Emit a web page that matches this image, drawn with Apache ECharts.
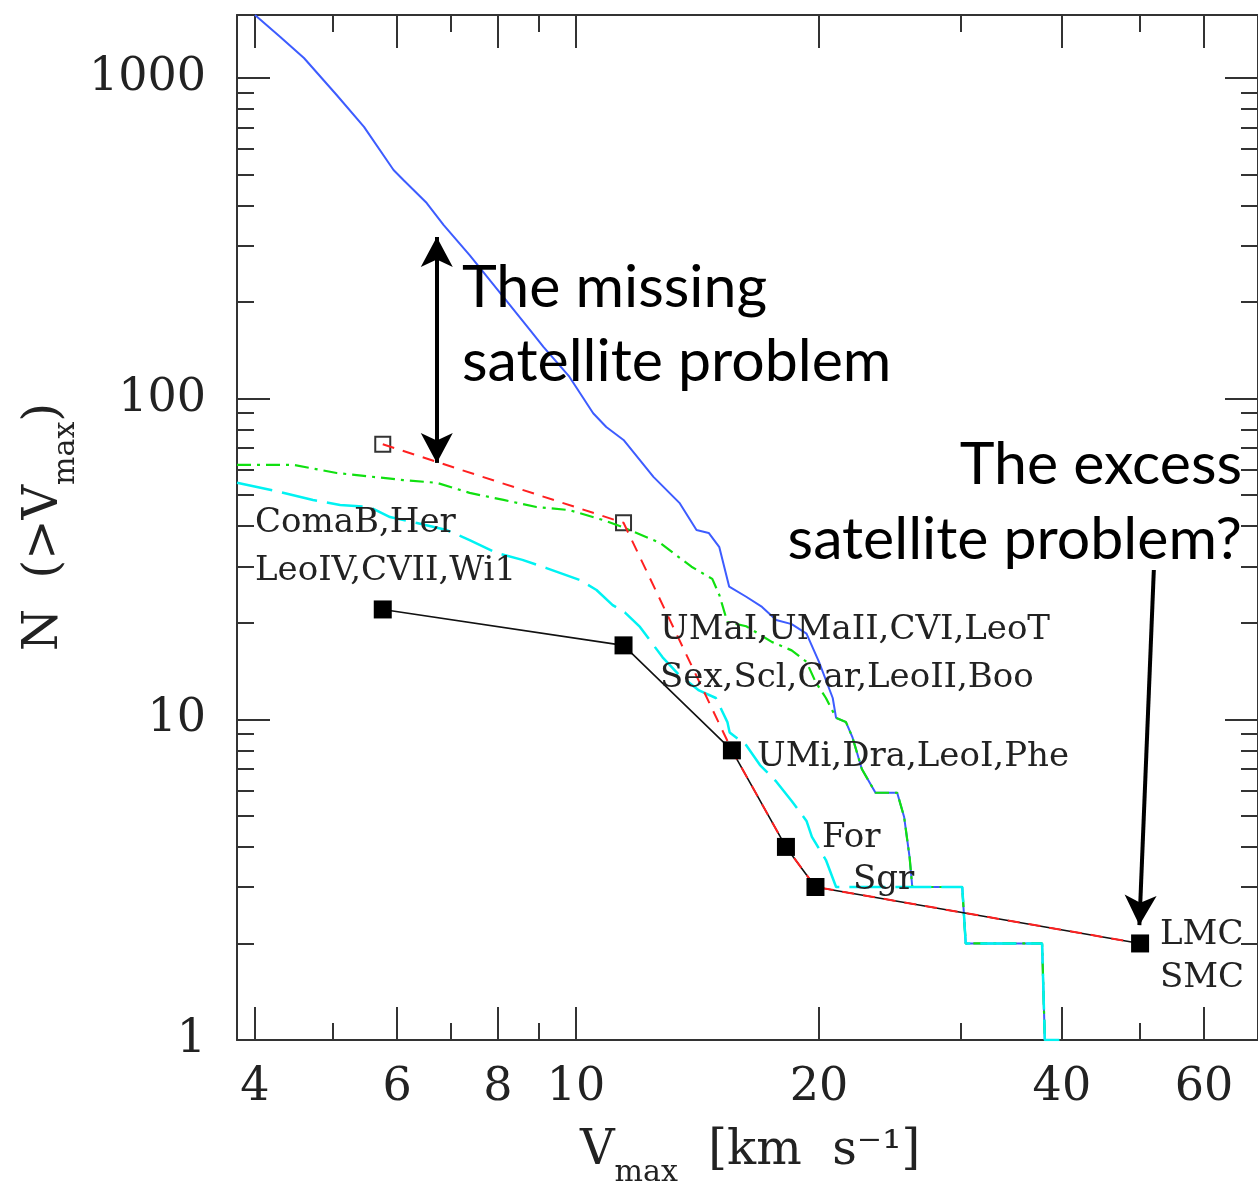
<!DOCTYPE html>
<html>
<head>
<meta charset="utf-8">
<title>N(&gt;Vmax)</title>
<script src="https://cdn.jsdelivr.net/npm/echarts@6.0.0/dist/echarts.min.js"></script>
<style>
  html, body { margin: 0; padding: 0; background: #fff; }
  #chart { width: 1258px; height: 1199px; }
</style>
</head>
<body>
<div id="chart"></div>
<script>
// axis ranges (log-log)
const xMin = 3.8, xMax = 70
const yMin = 1, yMax = 1570

// tick values
const xMajor = [4, 6, 8, 10, 20, 40, 60]
const xMinor = [5, 7, 9, 30, 50]
const yMajor = [1, 10, 100, 1000]
const yMinor = [2, 3, 4, 5, 6, 7, 8, 9, 20, 30, 40, 50, 60, 70, 80, 90, 200, 300, 400, 500, 600, 700, 800, 900]

// simulation, all subhalos (blue solid)
const blueV = [4.0, 4.3, 4.6, 5.05, 5.46, 5.94, 6.11, 6.53, 6.85, 7.38, 8.13, 8.76, 9.11, 9.81, 10.5, 10.9, 11.45, 12.47, 13.43, 14.1, 14.6, 15.05, 15.48, 16.25, 17.0, 17.7, 18.5, 19.3, 20.0, 20.8, 21.0, 21.6, 22.0, 22.6, 23.5, 25.0, 25.5, 25.9, 26.1, 30.1, 30.4, 37.8, 38.1, 39.7]
const blueN = [1570, 1341, 1153, 884, 703, 516, 480, 407, 348, 280, 207, 164, 145, 117, 90, 81.5, 74.3, 57, 47.3, 38.9, 38.1, 34.4, 25.9, 24.1, 22.4, 20.4, 19.8, 18.5, 15.1, 11.65, 10.1, 9.8, 8.8, 7.0, 5.9, 5.9, 4.96, 3.72, 3.0, 3.0, 2.0, 2.0, 1.0, 1.0]

// green dash-dot
const greenV = [3.8, 4.47, 5.05, 6.11, 6.72, 7.38, 8.13, 8.93, 9.81, 10.8, 11.4, 12.7, 13.9, 14.75, 15.05, 15.4, 16.25, 17.5, 18.5, 19.3, 19.8, 20.4, 21.0, 21.6, 22.0, 22.6, 23.5, 25.0, 25.5, 25.9, 26.1, 30.1, 30.4, 37.8, 38.1, 39.7]
const greenN = [62.1, 62.1, 58.6, 55.7, 54.6, 50.8, 48.3, 45.9, 44.9, 41.8, 39.8, 35.5, 29.9, 27.4, 24.4, 20.1, 19.5, 17.4, 16.4, 15.1, 13.1, 11.65, 10.1, 9.8, 8.8, 7.0, 5.9, 5.9, 4.96, 3.72, 3.0, 3.0, 2.0, 2.0, 1.0, 1.0]

// cyan long dash
const cyanV = [3.8, 4.3, 4.72, 5.1, 5.55, 5.88, 6.35, 6.91, 7.38, 7.97, 8.58, 9.19, 10.1, 10.6, 11.1, 11.5, 12.0, 12.8, 13.4, 14.2, 14.9, 15.4, 15.5, 16.25, 16.9, 17.7, 18.5, 19.3, 19.6, 20.4, 21.0, 30.1, 30.4, 37.8, 38.1, 39.7]
const cyanN = [54.6, 51.1, 48.3, 46.6, 45.9, 42.7, 40.9, 38.9, 36.2, 33.0, 31.4, 29.6, 27.2, 25.3, 22.7, 21.5, 19.4, 15.6, 13.8, 12.3, 11.65, 9.8, 9.1, 8.3, 7.2, 6.4, 5.56, 4.82, 4.3, 3.64, 3.0, 3.0, 2.0, 2.0, 1.0, 1.0]

// observed dwarfs (black squares)
const obsV = [5.76, 11.45, 15.6, 18.2, 19.8, 50.0]
const obsN = [22, 17, 8, 4, 3, 2]

// red dashed (first two points are open squares)
const redV = [5.76, 11.45, 15.6, 18.2, 19.8, 50.0]
const redN = [72, 41, 8, 4, 3, 2]
const openCount = 2

// arrows
const gapArrow = [[6.72, 319], [6.72, 63]]
const excessArrow = [[52.0, 29.2], [49.9, 2.28]]

const zip = (a, b) => a.map((v, i) => [v, b[i]])
const lg = v => Math.log10(v)

const serif = 'DejaVu Serif'
const axisColor = '#333'

function tickAxis(dim, pos, vals, len, withLabel, withLine) {
	const isX = dim === 'x'
	return {
		type: 'value',
		position: pos,
		min: lg(isX ? xMin : yMin),
		max: lg(isX ? xMax : yMax),
		axisLine: { show: withLine, onZero: false, lineStyle: { color: axisColor, width: 2 } },
		axisTick: {
			show: true, inside: true, length: len, customValues: vals.map(lg),
			lineStyle: { color: axisColor, width: 2 }
		},
		axisLabel: withLabel ? {
			show: true,
			customValues: vals.map(lg),
			formatter: v => String(Math.round(Math.pow(10, v))),
			fontFamily: serif,
			fontSize: 46,
			color: '#222',
			margin: isX ? 25 : 31
		} : { show: false },
		splitLine: { show: false }
	}
}

const chart = echarts.init(document.getElementById('chart'))

const option = {
	animation: false,
	backgroundColor: '#fff',
	grid: { left: 237, top: 15, width: 1021, height: 1025, containLabel: false },
	xAxis: [
		{ type: 'log', logBase: 10, min: xMin, max: xMax, show: false, position: 'bottom', axisLine: { onZero: false } },
		tickAxis('x', 'bottom', xMajor, 33, true, true),
		tickAxis('x', 'bottom', xMinor, 17, false, false),
		tickAxis('x', 'top', xMajor, 33, false, true),
		tickAxis('x', 'top', xMinor, 17, false, false)
	],
	yAxis: [
		{ type: 'log', logBase: 10, min: yMin, max: yMax, show: false, position: 'left', axisLine: { onZero: false } },
		tickAxis('y', 'left', yMajor, 33, true, true),
		tickAxis('y', 'left', yMinor, 17, false, false),
		tickAxis('y', 'right', yMajor, 33, false, true),
		tickAxis('y', 'right', yMinor, 17, false, false)
	],
	series: [
		{
			name: 'all', type: 'line', data: zip(blueV, blueN),
			showSymbol: false, symbol: 'none',
			lineStyle: { color: '#3d5cff', width: 2 }
		},
		{
			name: 'green', type: 'line', data: zip(greenV, greenN),
			showSymbol: false, symbol: 'none',
			lineStyle: { color: '#10e010', width: 2.2, type: [14, 6, 3, 6] }
		},
		{
			name: 'cyan', type: 'line', data: zip(cyanV, cyanN),
			showSymbol: false, symbol: 'none',
			lineStyle: { color: '#00f2f2', width: 2.5, type: [36, 10] }
		},
		{
			name: 'observed', type: 'line', data: zip(obsV, obsN),
			symbol: 'rect', symbolSize: 18,
			itemStyle: { color: '#000' },
			lineStyle: { color: '#111', width: 1.6 },
			markLine: {
				silent: true,
				symbolSize: [24, 30],
				label: { show: false },
				lineStyle: { color: '#000', width: 4, type: 'solid' },
				data: [
					[{ coord: gapArrow[0], symbol: 'arrow' }, { coord: gapArrow[1], symbol: 'arrow' }],
					[{ coord: excessArrow[0], symbol: 'none' }, { coord: excessArrow[1], symbol: 'arrow' }]
				]
			}
		},
		{
			name: 'red', type: 'line', data: zip(redV, redN),
			showSymbol: false, symbol: 'none',
			lineStyle: { color: '#ff2020', width: 2, type: [12, 9] }
		},
		{
			name: 'open', type: 'scatter', data: zip(redV, redN).slice(0, openCount),
			symbol: 'rect', symbolSize: 15,
			itemStyle: { color: '#fff', borderColor: '#000', borderWidth: 2 }
		}
	],
	graphic: [
		// axis titles
		{
			type: 'text', x: 750, y: 1152, z: 100,
			style: {
				text: '{m|V}{s|max}{m|  [km  s⁻¹]}',
				align: 'center', verticalAlign: 'middle',
				rich: {
					m: { fontFamily: serif, fontSize: 48, lineHeight: 72, fill: '#222' },
					s: { fontFamily: serif, fontSize: 30, lineHeight: 30, verticalAlign: 'bottom', fill: '#222' }
				}
			}
		},
		{
			type: 'text', x: 45, y: 527, rotation: Math.PI / 2, z: 100,
			style: {
				text: '{m|N  (>V}{s|max}{m|)}',
				align: 'center', verticalAlign: 'middle',
				rich: {
					m: { fontFamily: serif, fontSize: 48, lineHeight: 72, fill: '#222' },
					s: { fontFamily: serif, fontSize: 30, lineHeight: 30, verticalAlign: 'bottom', fill: '#222' }
				}
			}
		},
		// big annotations
		{ type: 'text', x: 462, y: 288, z: 100, style: { text: 'The missing', font: '59px Lato', fill: '#000', align: 'left', verticalAlign: 'middle' } },
		{ type: 'text', x: 462, y: 362, z: 100, style: { text: 'satellite problem', font: '59px Lato', fill: '#000', align: 'left', verticalAlign: 'middle' } },
		{ type: 'text', x: 1242, y: 465, z: 100, style: { text: 'The excess', font: '59px Lato', fill: '#000', align: 'right', verticalAlign: 'middle' } },
		{ type: 'text', x: 1242, y: 540, z: 100, style: { text: 'satellite problem?', font: '59px Lato', fill: '#000', align: 'right', verticalAlign: 'middle' } },
		// dwarf name labels
		{ type: 'text', x: 255, y: 523, z: 100, style: { text: 'ComaB,Her', font: '34px "DejaVu Serif"', fill: '#222', verticalAlign: 'middle' } },
		{ type: 'text', x: 255, y: 571, z: 100, style: { text: 'LeoIV,CVII,Wi1', font: '34px "DejaVu Serif"', fill: '#222', verticalAlign: 'middle' } },
		{ type: 'text', x: 660, y: 630, z: 100, style: { text: 'UMaI,UMaII,CVI,LeoT', font: '34px "DejaVu Serif"', fill: '#222', verticalAlign: 'middle' } },
		{ type: 'text', x: 660, y: 678, z: 100, style: { text: 'Sex,Scl,Car,LeoII,Boo', font: '34px "DejaVu Serif"', fill: '#222', verticalAlign: 'middle' } },
		{ type: 'text', x: 757, y: 757, z: 100, style: { text: 'UMi,Dra,LeoI,Phe', font: '34px "DejaVu Serif"', fill: '#222', verticalAlign: 'middle' } },
		{ type: 'text', x: 822, y: 838, z: 100, style: { text: 'For', font: '34px "DejaVu Serif"', fill: '#222', verticalAlign: 'middle' } },
		{ type: 'text', x: 853, y: 880, z: 100, style: { text: 'Sgr', font: '34px "DejaVu Serif"', fill: '#222', verticalAlign: 'middle' } },
		{ type: 'text', x: 1160, y: 935, z: 100, style: { text: 'LMC', font: '34px "DejaVu Serif"', fill: '#222', verticalAlign: 'middle' } },
		{ type: 'text', x: 1160, y: 978, z: 100, style: { text: 'SMC', font: '34px "DejaVu Serif"', fill: '#222', verticalAlign: 'middle' } }
	]
}

chart.setOption(option)
</script>
</body>
</html>
